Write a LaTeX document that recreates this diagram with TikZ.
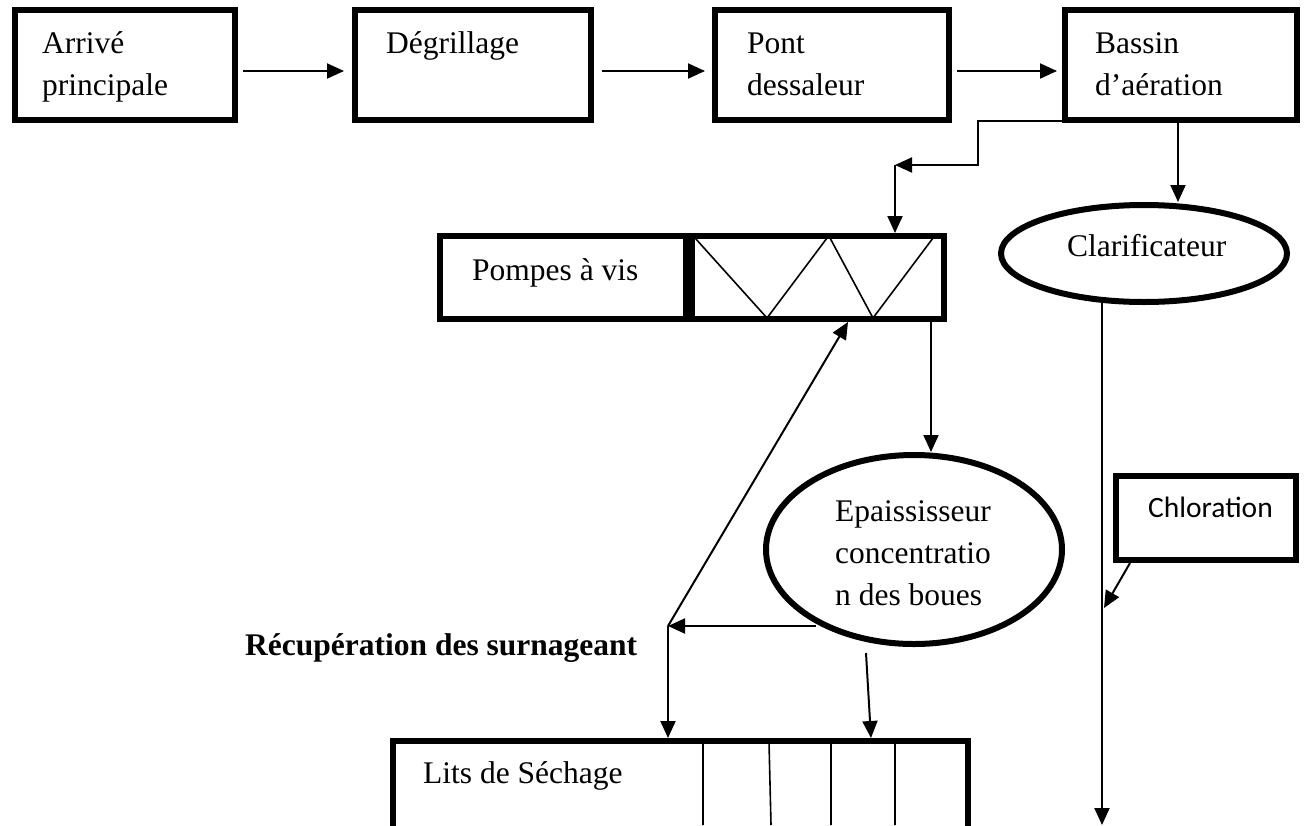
\documentclass[tikz,border=0pt]{standalone}
\usepackage{fontspec}
\setmainfont{Liberation Serif}
\newfontfamily\calibri{Carlito}
\usetikzlibrary{arrows.meta,shapes.geometric}
\tikzset{
  bloc/.style={draw,rectangle,line width=6pt,line join=miter,inner sep=0pt},
  cuve/.style={draw,ellipse,line width=6pt,inner sep=0pt},
  lbl/.style={anchor=base west,inner sep=0pt,align=left,font=\fontsize{31.5}{42}\selectfont},
  fleche/.style={->,line width=2pt},
  trait/.style={line width=1.6pt}
}

\begin{document}
\begin{tikzpicture}[line cap=butt,line join=miter,>={Triangle[length=17pt,width=15pt]},x=1pt,y=-1pt]
	\clip (0,0) rectangle (1306,825);
	% ligne du haut
	\node[bloc,minimum width=220pt,minimum height=110pt] (arrive) at (125,65) {};
	\node[bloc,minimum width=236pt,minimum height=110pt] (degr) at (473,65) {};
	\node[bloc,minimum width=234pt,minimum height=110pt] (pont) at (832,65) {};
	\node[bloc,minimum width=232pt,minimum height=110pt] (bassin) at (1181,65) {};
	\node[lbl] (tarrive) at (42,95) {Arrivé\\principale};
	\node[lbl] (tdegr) at (386,53) {Dégrillage};
	\node[lbl] (tpont) at (747,95) {Pont\\dessaleur};
	\node[lbl] (tbassin) at (1095,95) {Bassin\\d’aération};
	\coordinate (niv) at (0,71);
	\draw[fleche] ([xshift=5pt]arrive.east |- niv) -- ([xshift=-8pt]degr.west |- niv);
	\draw[fleche] ([xshift=8pt]degr.east |- niv) -- ([xshift=-7pt]pont.west |- niv);
	\draw[fleche] ([xshift=5pt]pont.east |- niv) -- ([xshift=-5pt]bassin.west |- niv);
	% pompes
	\node[bloc,minimum width=504pt,minimum height=83pt] (pompes) at (692,277.5) {};
	\node[lbl] (tpompes) at (472,280) {Pompes à vis};
	\draw[line width=12pt] (689,236) -- (689,319);
	\draw[trait] (695,238) -- (767,318) -- (827,238) (830,238) -- (873,318) -- (933,238);
	\coordinate (b1) at (1064,121);
	\coordinate (coude) at (895,165);
	\draw[fleche] (b1) -- (978,121) -- (978,165) -- (coude);
	\draw[fleche] (coude) -- (coude |- pompes.north);
	% clarificateur et chloration
	\node[cuve,minimum width=286pt,minimum height=97pt] (clar) at (1144,253.5) {};
	\node[lbl] (tclar) at (1067,256) {Clarificateur};
	\coordinate (b2) at (1178,122);
	\draw[fleche] (b2) -- (b2 |- clar.north);
	\coordinate (c1) at (1102,303);
	\coordinate (sortie) at (1102,825);
	\draw[fleche] (c1) -- (sortie);
	\node[bloc,minimum width=180pt,minimum height=84pt] (chlor) at (1206,518) {};
	\node[lbl,font=\calibri\fontsize{29.5}{36}\selectfont] (tchlor) at (1148,517) {Chloration};
	\coordinate (c2) at (1130,563);
	\coordinate (c3) at (1104,608);
	\draw[fleche] (c2) -- (c3);
	% epaississeur
	\node[cuve,minimum width=296pt,minimum height=189pt] (epais) at (914,549.5) {};
	\node[lbl] (tepais) at (835,605) {Epaississeur\\concentratio\\n des boues};
	\coordinate (p1) at (931,322);
	\draw[fleche] (p1) -- (p1 |- epais.north);
	\coordinate (e1) at (816,626);
	\coordinate (recup) at (668,626);
	\coordinate (p2) at (848,322);
	\draw[fleche] (e1) -- (recup);
	\draw[fleche] (recup) -- (p2);
	\node[lbl,font=\bfseries\fontsize{31.5}{42}\selectfont] (trecup) at (245,655) {Récupération des surnageant};
	% lits de sechage
	\node[bloc,minimum width=575pt,minimum height=101pt] (lits) at (680.5,791.5) {};
	\node[lbl] (tlits) at (423,783) {Lits de Séchage};
	\draw[fleche] (recup) -- (recup |- lits.north);
	\coordinate (e2) at (866,653);
	\coordinate (l1) at (871,738);
	\draw[fleche] (e2) -- (l1);
	\draw[trait] (703,742) -- (703,825) (769,742) -- (771,825) (831,742) -- (831,825) (895,742) -- (895,825);
\end{tikzpicture}
\end{document}
